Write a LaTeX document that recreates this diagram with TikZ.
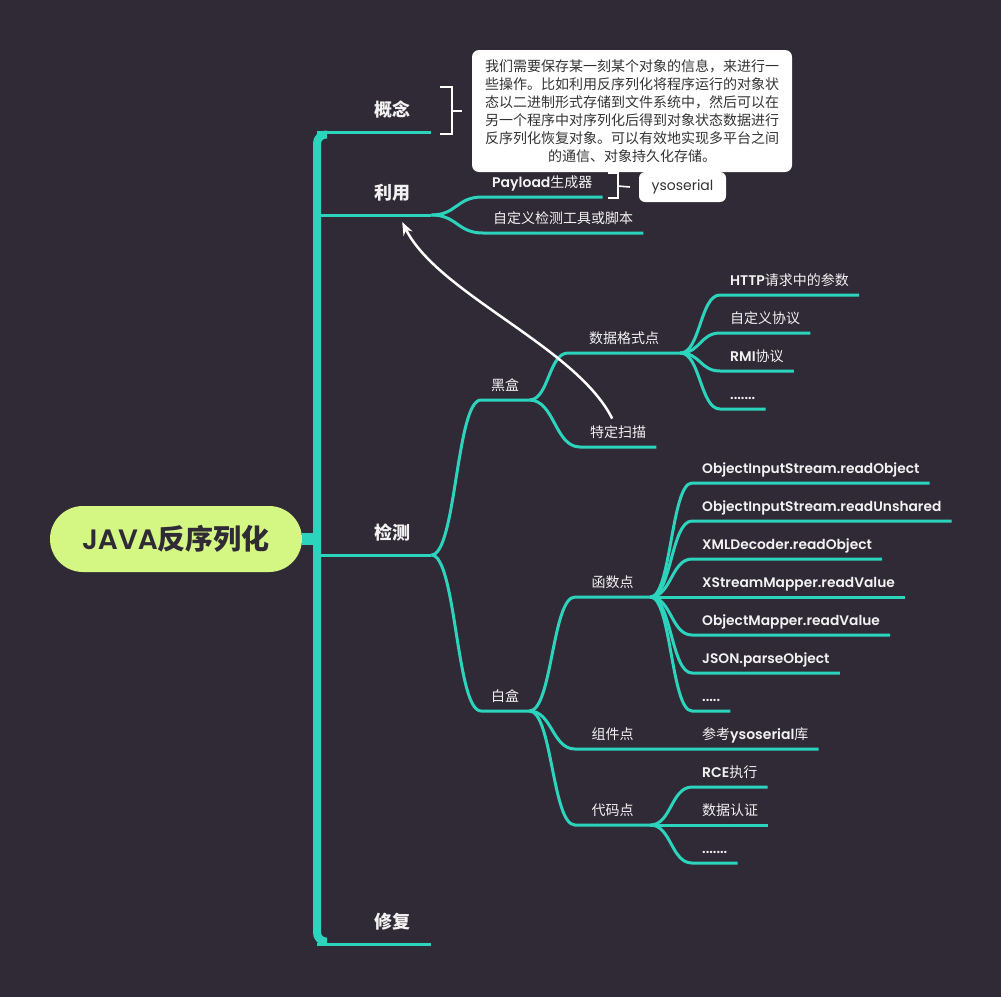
\documentclass[tikz,border=0pt]{standalone}
\usepackage{fontspec}
\setmainfont{Noto Sans CJK SC}
\newfontfamily\latf{Poppins}[BoldFont={* SemiBold}]
\usetikzlibrary{positioning,calc,arrows.meta}

\definecolor{bgdark}{RGB}{47,42,53}
\definecolor{mmteal}{RGB}{44,212,190}
\definecolor{rootgreen}{RGB}{212,247,132}
\definecolor{txtw}{RGB}{242,242,242}
\definecolor{txtd}{RGB}{51,51,51}

\newcommand{\ltn}[1]{{\latf\bfseries #1}}

\begin{document}
\begin{tikzpicture}[x=1pt,y=-1pt,
	root/.style={fill=rootgreen, text=bgdark, rounded corners=33pt, minimum width=252pt, minimum height=66pt, font=\fontsize{28}{30}\selectfont\bfseries},
	main/.style={anchor=south west, text=txtw, font=\fontsize{18}{20}\selectfont\bfseries, text height=14.4pt, text depth=3.6pt, inner xsep=0pt, inner ysep=11.5pt, minimum width=78pt},
	sub/.style={anchor=south west, text=txtw, font=\fontsize{14}{16}\selectfont, text height=11.2pt, text depth=2.8pt, inner xsep=10pt, inner ysep=7pt},
	lat/.style={font=\fontsize{13.8}{16}\selectfont\latf\bfseries},
	note/.style={fill=white, text=txtd, rounded corners=7pt},
	trunk/.style={draw=mmteal, line width=8pt},
	branch/.style={draw=mmteal, line width=3pt},
	brk/.style={draw=white, line width=1.6pt},
	jump/.style={draw=white, line width=2.5pt, -{Stealth[length=13pt,width=10pt]}},
	sbend/.style={to path={.. controls ($(\tikztostart)!.5!(\tikztotarget|-\tikztostart)$) and ($(\tikztotarget)!.5!(\tikztostart|-\tikztotarget)$) .. (\tikztotarget)}}
]
	\fill[bgdark] (0,0) rectangle (1001,997);

	\node[root] (rt) at (176,539) {\ltn{JAVA}反序列化};

	% trunk
	\coordinate (tk1) at (317,132);
	\coordinate (tk2) at (317,944);
	\coordinate (t1) at (317,215);
	\coordinate (t2) at (317,555);
	\coordinate (tm) at (317,539);
	\draw[trunk, rounded corners=9pt] ([xshift=10pt,yshift=-2.5pt]tk1) -- ([yshift=-2.5pt]tk1) -- ([yshift=2.5pt]tk2) -- ([xshift=10pt,yshift=2.5pt]tk2);
	\draw[mmteal, line width=12pt] (rt.east) -- (tm);

	\node[main] (gn) at (353,132) {概念};
	\node[main] (ly) at (353,215) {利用};
	\node[main] (jc) at (353,555) {检测};
	\node[main] (xf) at (353,944) {修复};

	\node[note, align=center, font=\fontsize{14}{18}\selectfont, minimum width=320pt, minimum height=122pt] (gy) at (632,111)
		{我们需要保存某一刻某个对象的信息，来进行一\\些操作。比如利用反序列化将程序运行的对象状\\态以二进制形式存储到文件系统中，然后可以在\\另一个程序中对序列化后得到对象状态数据进行\\反序列化恢复对象。可以有效地实现多平台之间\\的通信、对象持久化存储。};

	\node[sub] (pl) at (482,197) {\ltn{Payload}生成器};
	\node[sub] (zd) at (483,233) {自定义检测工具或脚本};
	\node[note, font=\fontsize{14}{16}\selectfont\latf, minimum width=87pt, minimum height=30pt, rounded corners=6pt] (ys) at (682.5,187) {ysoserial};

	% black box
	\node[sub] (hh) at (481,400) {黑盒};
	\node[sub, minimum width=112pt] (sj) at (568,353) {数据格式点};
	\node[sub] (ts) at (580,447) {特定扫描};
	\node[sub] (h1) at (720,295) {\ltn{HTTP}请求中的参数};
	\node[sub] (h2) at (720,333) {自定义协议};
	\node[sub] (h3) at (720,371) {\ltn{RMI}协议};
	\node[sub, lat] (h4) at (720,409) {.......};

	% white box
	\node[sub] (bh) at (481,711) {白盒};
	\node[sub, minimum width=75pt] (hs) at (575,597) {函数点};
	\node[sub, minimum width=75pt] (zj) at (575,749) {组件点};
	\node[sub, minimum width=75pt] (dm) at (575,825) {代码点};
	\node[sub, lat] (f1) at (692,483) {ObjectInputStream.readObject};
	\node[sub, lat] (f2) at (692,521) {ObjectInputStream.readUnshared};
	\node[sub, lat] (f3) at (692,559) {XMLDecoder.readObject};
	\node[sub, lat] (f4) at (692,597) {XStreamMapper.readValue};
	\node[sub, lat] (f5) at (692,635) {ObjectMapper.readValue};
	\node[sub, lat] (f6) at (692,673) {JSON.parseObject};
	\node[sub, lat] (f7) at (692,711) {.....};
	\node[sub] (ck) at (692,749) {参考\ltn{ysoserial}库};
	\node[sub] (c1) at (692,787) {\ltn{RCE}执行};
	\node[sub] (c2) at (692,825) {数据认证};
	\node[sub, lat] (c3) at (692,863) {.......};

	\draw[branch] (tk1) -- (gn.south west) -- (gn.south east);
	\draw[branch] (t1) -- (ly.south west) -- (ly.south east);
	\draw[branch] (t2) -- (jc.south west) -- (jc.south east);
	\draw[branch] (tk2) -- (xf.south west) -- (xf.south east);

	\draw[branch] (ly.south east) to[sbend] (pl.south west) -- (pl.south east);
	\draw[branch] (ly.south east) to[sbend] (zd.south west) -- (zd.south east);

	\draw[branch] (jc.south east) to[sbend] (hh.south west) -- (hh.south east);
	\draw[branch] (jc.south east) to[sbend] (bh.south west) -- (bh.south east);
	\draw[branch] (hh.south east) to[sbend] (sj.south west) -- (sj.south east);
	\draw[branch] (hh.south east) to[sbend] (ts.south west) -- (ts.south east);
	\draw[branch] (sj.south east) to[sbend] (h1.south west) -- (h1.south east);
	\draw[branch] (sj.south east) to[sbend] (h2.south west) -- (h2.south east);
	\draw[branch] (sj.south east) to[sbend] (h3.south west) -- (h3.south east);
	\draw[branch] (sj.south east) to[sbend] (h4.south west) -- (h4.south east);

	\draw[branch] (bh.south east) to[sbend] (hs.south west) -- (hs.south east);
	\draw[branch] (bh.south east) to[sbend] (zj.south west) -- (zj.south east) -- (ck.south west) -- (ck.south east);
	\draw[branch] (bh.south east) to[sbend] (dm.south west) -- (dm.south east);
	\draw[branch] (hs.south east) to[sbend] (f1.south west) -- (f1.south east);
	\draw[branch] (hs.south east) to[sbend] (f2.south west) -- (f2.south east);
	\draw[branch] (hs.south east) to[sbend] (f3.south west) -- (f3.south east);
	\draw[branch] (hs.south east) to[sbend] (f4.south west) -- (f4.south east);
	\draw[branch] (hs.south east) to[sbend] (f5.south west) -- (f5.south east);
	\draw[branch] (hs.south east) to[sbend] (f6.south west) -- (f6.south east);
	\draw[branch] (hs.south east) to[sbend] (f7.south west) -- (f7.south east);
	\draw[branch] (dm.south east) to[sbend] (c1.south west) -- (c1.south east);
	\draw[branch] (dm.south east) to[sbend] (c2.south west) -- (c2.south east);
	\draw[branch] (dm.south east) to[sbend] (c3.south west) -- (c3.south east);

	% brackets
	\coordinate (gb) at (452,111);
	\draw[brk] ([xshift=-12pt,yshift=24pt]gb) -- ([yshift=24pt]gb) -- ([yshift=-23pt]gb) -- ([xshift=-12pt,yshift=-23pt]gb);
	\draw[brk] (gb) -- ([xshift=-10pt]gy.west);
	\coordinate (pb) at (618,186);
	\draw[brk] ([xshift=-10pt,yshift=13pt]pb) -- ([yshift=13pt]pb) -- ([yshift=-12pt]pb) -- ([xshift=-10pt,yshift=-12pt]pb);
	\draw[brk] (pb) -- ([xshift=-9pt]ys.west);

	\draw[jump] ([xshift=-6pt]ts.north) .. controls +(-36,-72) and +(36,72) .. ([xshift=10pt,yshift=-7pt]ly.south);
\end{tikzpicture}
\end{document}
